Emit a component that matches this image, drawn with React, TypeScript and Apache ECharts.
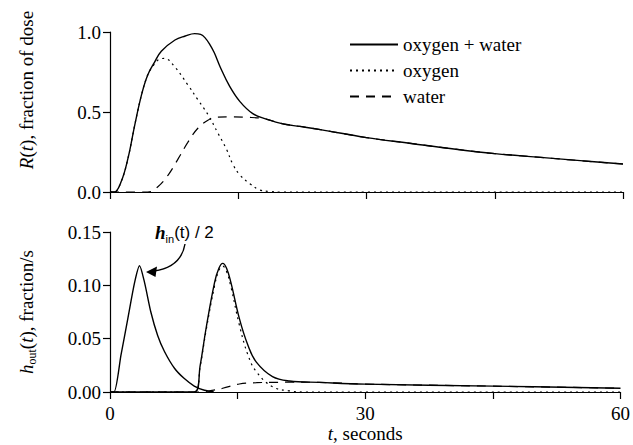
import React, { useEffect, useRef } from "react";
import * as echarts from "echarts";

// ---- Top panel: R(t), fraction of dose ----
const tTopSum = [0, 0.5, 1.3, 2.1, 2.9, 3.7, 4.4, 5.2, 6.0, 7.6, 8.8, 9.9, 10.6, 11.1, 11.7, 12.2, 12.9, 14.0, 15.2, 16.7, 18.3, 20.3, 22.2, 24.6, 30, 35, 40, 45, 50, 55, 60];
const rTopSum = [0, 0, 0.064, 0.21, 0.42, 0.61, 0.73, 0.81, 0.88, 0.95, 0.975, 0.99, 0.985, 0.965, 0.92, 0.87, 0.78, 0.66, 0.565, 0.49, 0.456, 0.425, 0.41, 0.39, 0.34, 0.305, 0.27, 0.24, 0.218, 0.196, 0.175];

const tTopOxy = [0, 0.5, 1.3, 2.1, 2.9, 3.7, 4.4, 5.2, 5.8, 6.4, 7.6, 9.1, 10.3, 11.5, 12.6, 13.6, 14.4, 15.2, 16.4, 17.5, 18.7, 20, 30, 40, 50, 60];
const rTopOxy = [0, 0, 0.064, 0.21, 0.42, 0.61, 0.73, 0.8, 0.83, 0.835, 0.78, 0.67, 0.575, 0.48, 0.37, 0.27, 0.17, 0.106, 0.05, 0.013, 0.003, 0, 0, 0, 0, 0];

const tTopWat = [0, 4.4, 5.6, 6.8, 8.0, 9.1, 10.3, 11.5, 12.6, 14.0, 16.0, 18.0, 20.3, 22.2, 24.6, 30, 35, 40, 45, 50, 55, 60];
const rTopWat = [0, 0, 0.033, 0.106, 0.21, 0.31, 0.4, 0.45, 0.468, 0.47, 0.467, 0.458, 0.425, 0.41, 0.39, 0.34, 0.305, 0.27, 0.24, 0.218, 0.196, 0.175];

// ---- Bottom panel: h(t), fraction/s ----
const tIn = [0, 0.47, 1.3, 2.1, 2.9, 3.47, 4.05, 4.8, 5.6, 6.4, 7.6, 8.7, 9.9, 11.1, 12.2];
const hIn = [0, 0, 0.035, 0.069, 0.103, 0.1184, 0.103, 0.075, 0.053, 0.038, 0.022, 0.0128, 0.0056, 0.0016, 0];

const tOutSum = [0, 9.95, 10.6, 11.3, 12.3, 12.8, 13.25, 13.7, 14.2, 15.2, 16.2, 17.2, 19.1, 21.1, 24.6, 30, 45, 60];
const hOutSum = [0, 0, 0.025, 0.06, 0.103, 0.116, 0.1206, 0.116, 0.103, 0.069, 0.044, 0.028, 0.0144, 0.0103, 0.009, 0.0074, 0.0055, 0.0035];

const tOutOxy = [0, 9.95, 10.6, 11.3, 12.3, 12.8, 13.25, 13.7, 14.2, 15.2, 16.2, 17.2, 19.1, 21.1, 23, 30, 45, 60];
const hOutOxy = [0, 0, 0.024, 0.058, 0.1, 0.114, 0.118, 0.113, 0.099, 0.063, 0.035, 0.019, 0.005, 0.001, 0, 0, 0, 0];

const tOutWat = [0, 10.5, 12, 13.25, 15.2, 17.2, 19.1, 21.1, 24.6, 30, 45, 60];
const hOutWat = [0, 0, 0.0015, 0.0035, 0.0075, 0.0087, 0.009, 0.0092, 0.009, 0.0074, 0.0055, 0.0035];

const xLabelled = [0, 30, 60];
const legendNames = ["oxygen + water", "oxygen", "water"];

const zip = (xs: number[], ys: number[]) => xs.map((x, i) => [x, ys[i]]);

const FONT = "Liberation Serif";
const SANS = "Liberation Sans";
const FS = 19;
const DOT: number[] = [2, 4];
const DASH: number[] = [9, 7];

export default function App() {
  const ref = useRef<HTMLDivElement>(null);
  useEffect(() => {
    if (!ref.current) return;
    const chart = echarts.init(ref.current, undefined, { renderer: "svg" });
    const axisLine = { show: true, lineStyle: { color: "#000", width: 1.2 } };
    const axisTick = { show: true, length: 7, lineStyle: { color: "#000", width: 1.2 } };
    const labelStyle = { color: "#000", fontFamily: FONT, fontSize: FS };
    const italic = { fontFamily: FONT, fontSize: FS, fontStyle: "italic", color: "#000", lineHeight: 24 };
    const lineBase = (width: number, type: any) => ({
      type: "line",
      smooth: 0.4,
      showSymbol: false,
      symbol: "none",
      color: "#000",
      lineStyle: { color: "#000", width, type },
      emphasis: { disabled: true },
    });

    chart.setOption({
      animation: false,
      textStyle: { fontFamily: FONT },
      grid: [
        { left: 110, right: 10, top: 32, height: 160 },
        { left: 110, right: 10, top: 232, height: 160 },
      ],
      legend: {
        data: legendNames,
        orient: "vertical",
        left: 344,
        top: 30,
        itemWidth: 48,
        itemHeight: 14,
        itemGap: 7,
        selectedMode: false,
        itemStyle: { opacity: 0 },
        textStyle: { color: "#000", fontFamily: FONT, fontSize: FS },
      },
      xAxis: [
        {
          gridIndex: 0,
          type: "value",
          min: 0,
          max: 60,
          interval: 15,
          axisLine,
          axisTick,
          axisLabel: { show: false },
          splitLine: { show: false },
        },
        {
          gridIndex: 1,
          type: "value",
          min: 0,
          max: 60,
          interval: 15,
          axisLine,
          axisTick,
          axisLabel: {
            ...labelStyle,
            margin: 12,
            formatter: (v: number) => (xLabelled.includes(v) ? String(v) : ""),
          },
          splitLine: { show: false },
          name: "{i|t}, seconds",
          nameLocation: "middle",
          nameGap: 32,
          nameTextStyle: { ...labelStyle, rich: { i: { ...italic, lineHeight: undefined } } },
        },
      ],
      yAxis: [
        {
          gridIndex: 0,
          type: "value",
          min: 0,
          max: 1,
          interval: 0.5,
          axisLine,
          axisTick,
          axisLabel: { ...labelStyle, margin: 9, formatter: (v: number) => v.toFixed(1) },
          splitLine: { show: false },
          name: "{i|R}({i|t}), fraction of dose",
          nameLocation: "middle",
          nameGap: 72,
          nameTextStyle: {
            ...labelStyle,
            lineHeight: 24,
            padding: [0, 0, 0, 44],
            rich: { i: italic },
          },
        },
        {
          gridIndex: 1,
          type: "value",
          min: 0,
          max: 0.15,
          interval: 0.05,
          axisLine,
          axisTick,
          axisLabel: { ...labelStyle, margin: 9, formatter: (v: number) => v.toFixed(2) },
          splitLine: { show: false },
          name: "{i|h}{s|out}({i|t}), fraction/s",
          nameLocation: "middle",
          nameGap: 72,
          nameTextStyle: {
            ...labelStyle,
            lineHeight: 24,
            rich: {
              i: italic,
              s: { fontFamily: FONT, fontSize: 12, color: "#000", verticalAlign: "bottom" },
            },
          },
        },
      ],
      series: [
        { ...lineBase(1.4, "solid"), name: "oxygen + water", xAxisIndex: 0, yAxisIndex: 0, data: zip(tTopSum, rTopSum) },
        { ...lineBase(1.2, DOT), name: "oxygen", xAxisIndex: 0, yAxisIndex: 0, data: zip(tTopOxy, rTopOxy) },
        { ...lineBase(1.2, DASH), name: "water", xAxisIndex: 0, yAxisIndex: 0, data: zip(tTopWat, rTopWat) },
        { ...lineBase(1.4, "solid"), name: "hin/2", xAxisIndex: 1, yAxisIndex: 1, smooth: 0.25, data: zip(tIn, hIn) },
        { ...lineBase(1.4, "solid"), name: "oxygen + water", xAxisIndex: 1, yAxisIndex: 1, data: zip(tOutSum, hOutSum) },
        { ...lineBase(1.2, DOT), name: "oxygen", xAxisIndex: 1, yAxisIndex: 1, data: zip(tOutOxy, hOutOxy) },
        { ...lineBase(1.2, DASH), name: "water", xAxisIndex: 1, yAxisIndex: 1, data: zip(tOutWat, hOutWat) },
      ],
      graphic: [
        {
          type: "text",
          x: 155,
          y: 232,
          style: {
            text: "{h|h}{s|in}{n|(t) / 2}",
            verticalAlign: "middle",
            align: "left",
            fill: "#000",
            rich: {
              h: { fontFamily: FONT, fontSize: 19, fontStyle: "italic", fontWeight: "bold", fill: "#000", lineHeight: 24 },
              s: { fontFamily: SANS, fontSize: 11, fill: "#000", verticalAlign: "bottom" },
              n: { fontFamily: SANS, fontSize: 17, fill: "#000", lineHeight: 24 },
            },
          },
        },
        {
          type: "bezierCurve",
          shape: { x1: 185, y1: 244, cpx1: 182, cpy1: 262, cpx2: 168, cpy2: 269, x2: 154, y2: 271 },
          style: { stroke: "#000", lineWidth: 1.4, fill: "none" },
        },
        {
          type: "polygon",
          shape: { points: [[146, 272], [157, 266.5], [155.5, 277]] },
          style: { fill: "#000" },
        },
      ],
    });
    return () => chart.dispose();
  }, []);
  return (
    <div
      ref={ref}
      style={{ position: "fixed", left: 0, top: 0, width: 633, height: 445, background: "#fff" }}
    />
  );
}
